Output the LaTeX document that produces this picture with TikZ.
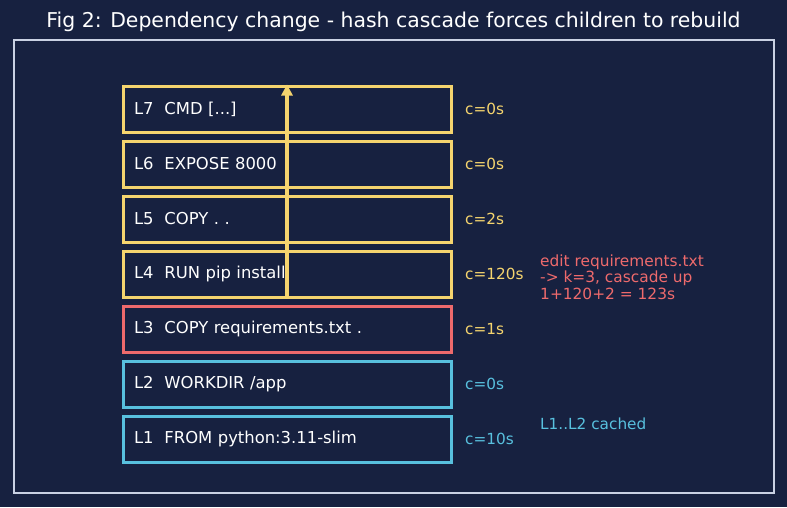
\documentclass[tikz,border=0pt]{standalone}
\usepackage{fontspec}
\setmainfont{DejaVu Sans}
\usetikzlibrary{arrows.meta, positioning}
\usepackage{xcolor}
\definecolor{bgnavy}{HTML}{172140}
\definecolor{framegray}{HTML}{C9D1E3}
\definecolor{rebuildyel}{HTML}{F5D46E}
\definecolor{changedred}{HTML}{EE6A6C}
\definecolor{cachedcyan}{HTML}{58C0DE}
\newcommand{\cmdargs}{[...]}

\begin{document}
\begin{tikzpicture}[x=1pt, y=-1pt,
    layer/.style={draw, line width=3pt, fill=bgnavy, minimum width=328pt, minimum height=46pt,
      text width=306pt, inner xsep=11pt, align=left, text=white, font=\fontsize{16.4}{19}\selectfont},
    cost/.style={anchor=west, inner sep=0pt, font=\fontsize{15.3}{18}\selectfont},
    note/.style={anchor=north west, inner sep=0pt, align=left, font=\fontsize{15.4}{16.5}\selectfont},
    cascade/.style={-{Triangle[length=11pt, width=11pt]}, draw=rebuildyel, fill=rebuildyel, line width=3.5pt}]
    \fill[bgnavy] (0,0) rectangle (787,507);
    \node[text=white, font=\fontsize{20.4}{23}\selectfont] (title) at (393.5,22)
      {Fig 2: Dependency change - hash cascade forces children to rebuild};
    \draw[framegray, line width=1.5pt] (14,40) rectangle (774,493);
    % layers, bottom to top
    \foreach \i/\txt/\c/\col in {1/FROM python:3.11-slim/10s/cachedcyan, 2/WORKDIR \slash app/0s/cachedcyan,
        3/COPY requirements.txt ./1s/changedred, 4/RUN pip install/120s/rebuildyel,
        5/COPY . ./2s/rebuildyel, 6/EXPOSE 8000/0s/rebuildyel, 7/CMD \cmdargs/0s/rebuildyel} {
      \node[layer, draw=\col] (L\i) at (287, 494-55*\i) {L\i\ \ \txt};
      \ifnum\i>2 \def\ccol{rebuildyel}\else \def\ccol{cachedcyan}\fi
      \node[cost, text=\ccol] (c\i) at (465, 494-55*\i) {c=\c};
    }
    \draw[cascade] (L4.south) -- (L7.north);
    \node[note, text=changedred] (edit) at (540,254.5)
      {edit requirements.txt\\-> k=3, cascade up\\1+120+2 = 123s};
    \node[cost, text=cachedcyan] (cached) at (540,424) {L1..L2 cached};
  \end{tikzpicture}
\end{document}
